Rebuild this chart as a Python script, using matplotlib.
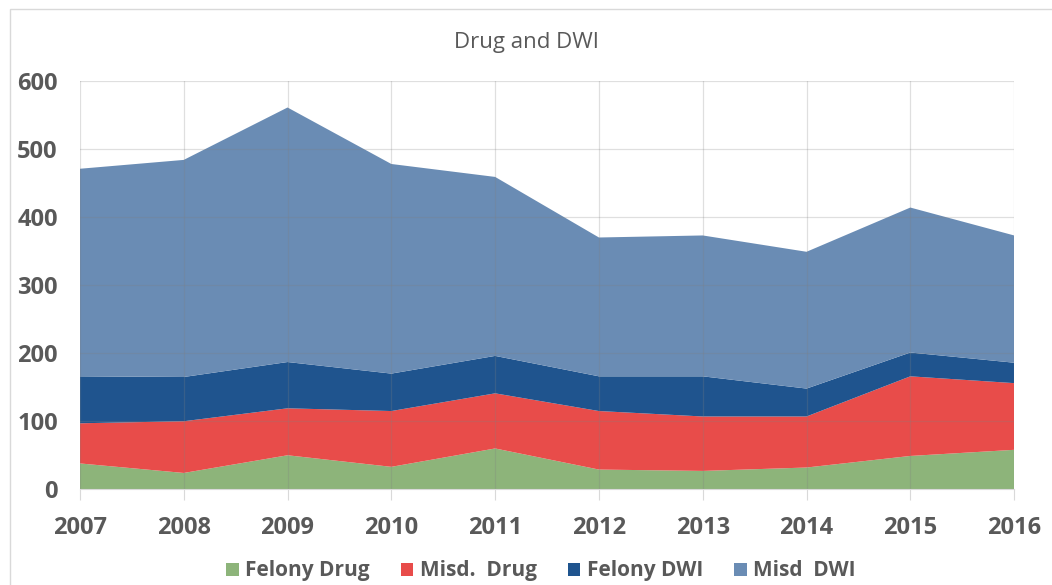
import matplotlib
matplotlib.use("Agg")
import matplotlib.pyplot as plt
from matplotlib.patches import Rectangle

years = [2007, 2008, 2009, 2010, 2011, 2012, 2013, 2014, 2015, 2016]
felony_drug = [38, 24, 50, 33, 60, 29, 27, 32, 49, 58]
misd_drug = [59, 76, 69, 82, 81, 86, 80, 75, 117, 98]
felony_dwi = [69, 65, 68, 55, 55, 51, 59, 41, 35, 30]
misd_dwi = [305, 319, 374, 308, 263, 204, 207, 201, 213, 187]

labels = ["Felony Drug", "Misd.  Drug", "Felony DWI", "Misd  DWI"]
colors = ["#8db47a", "#e84c4a", "#1f548e", "#6a8cb4"]

plt.rcParams['font.family'] = ['Open Sans', 'DejaVu Sans']

fig = plt.figure(figsize=(10.52, 5.85), dpi=100)
ax = fig.add_axes([0.076, 0.1636, 0.888, 0.698])

ax.stackplot(years, felony_drug, misd_drug, felony_dwi, misd_dwi,
             colors=colors, labels=labels, linewidth=0)

ax.set_xlim(years[0], years[-1])
ax.set_ylim(0, 600)
ax.set_xticks(years)
ax.set_yticks(range(0, 601, 100))
ax.grid(True, color="#808080", alpha=0.25, linewidth=0.9)
ax.set_axisbelow(False)

for s in ["top", "right", "left"]:
    ax.spines[s].set_visible(False)
ax.spines["bottom"].set_color("#d9d9d9")

ax.tick_params(axis="y", length=0, pad=16, labelsize=17, labelcolor="#595959")
ax.tick_params(axis="x", length=8, color="#d9d9d9", pad=11, labelsize=17, labelcolor="#595959")
for t in ax.get_xticklabels() + ax.get_yticklabels():
    t.set_fontweight("bold")

fig.text(0.5, 0.928, "Drug and DWI", ha="center", va="center", fontsize=16, color="#595959")

leg = fig.legend(loc="center", bbox_to_anchor=(0.514, 0.024), ncol=4, frameon=False,
                 prop={"weight": "bold", "size": 15}, handlelength=0.6, handleheight=0.6,
                 handletextpad=0.3, columnspacing=1.5)
for t in leg.get_texts():
    t.set_color("#595959")

fig.patches.append(Rectangle((0.0095, -0.01), 1.0, 0.995, transform=fig.transFigure,
                             fill=False, edgecolor="#d9d9d9", linewidth=1))

fig.savefig("out.png", dpi=100)
